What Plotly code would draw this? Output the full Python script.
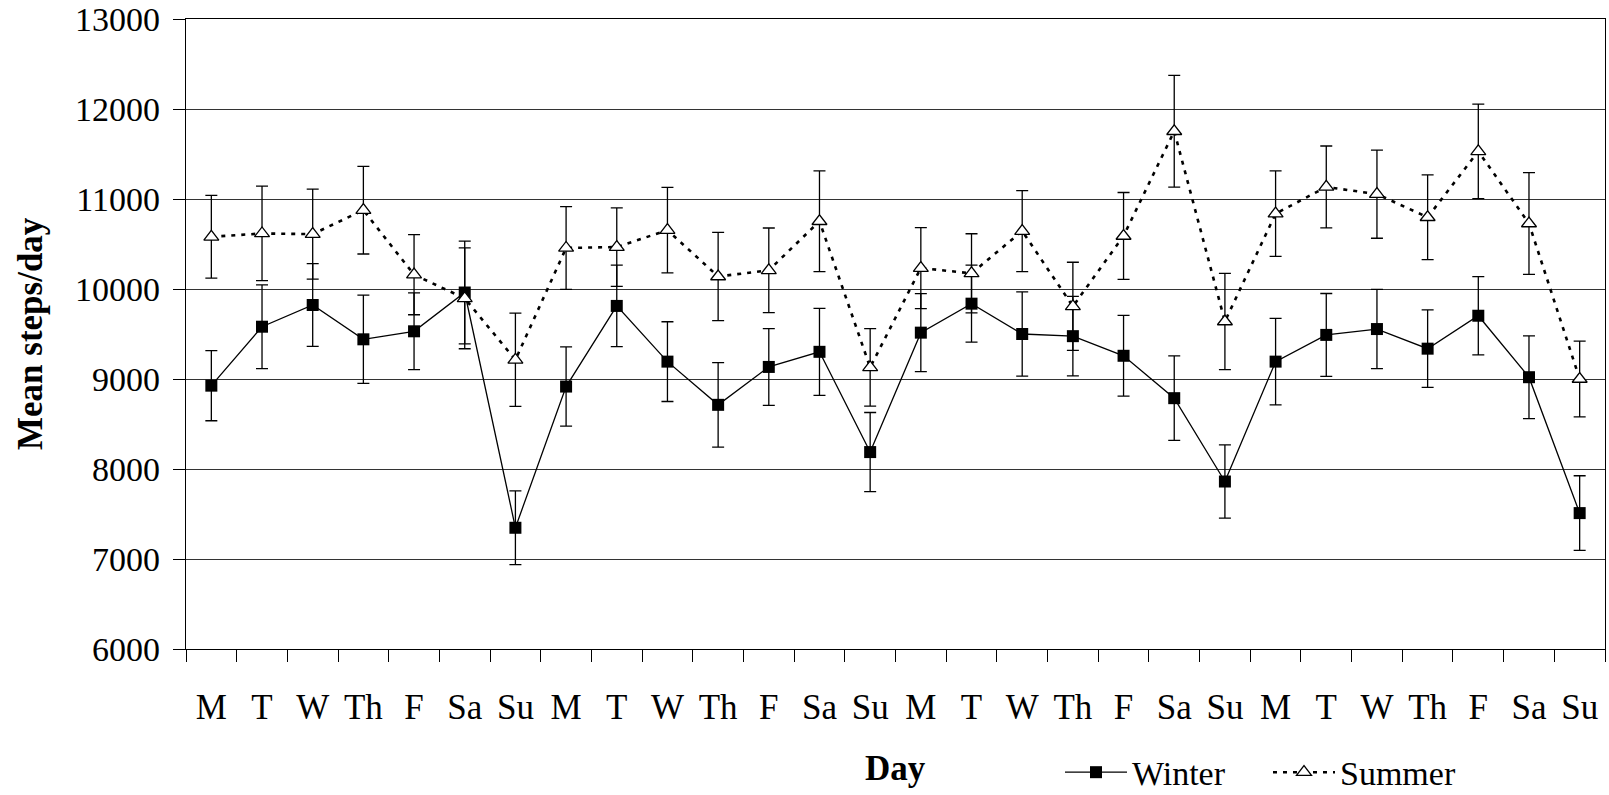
import plotly.graph_objects as go

days = ["M", "T", "W", "Th", "F", "Sa", "Su"] * 4
x_pos = list(range(len(days)))

winter = [8926, 9581, 9822, 9441, 9530, 9961, 7347,
          8916, 9812, 9193, 8713, 9134, 9302, 8188,
          9515, 9837, 9500, 9476, 9258, 8787, 7861,
          9193, 9490, 9555, 9337, 9703, 9020, 7510]
winter_err = [390, 465, 460, 490, 426, 570, 410,
              440, 453, 443, 470, 426, 483, 440,
              433, 428, 468, 441, 448, 470, 407,
              480, 460, 440, 430, 435, 460, 415]
summer = [10580, 10617, 10610, 10876, 10159, 9896, 9213,
          10456, 10466, 10654, 10139, 10208, 10753, 9129,
          10233, 10174, 10644, 9807, 10589, 11753, 9639,
          10837, 11134, 11054, 10797, 11530, 10728, 9000]
summer_err = [460, 525, 500, 487, 445, 560, 518,
              460, 436, 475, 490, 470, 560, 430,
              450, 440, 450, 490, 483, 620, 535,
              475, 455, 490, 470, 525, 565, 420]

y_ticks = [6000, 7000, 8000, 9000, 10000, 11000, 12000, 13000]
y_labels = [str(v) for v in y_ticks]
boundaries = [i - 0.5 for i in range(len(days) + 1)]

FONT = "Liberation Serif"

fig = go.Figure()
fig.add_trace(go.Scatter(
    x=x_pos, y=winter, name="Winter", mode="lines+markers",
    line=dict(color="black", width=1.3),
    marker=dict(symbol="square", size=12, color="black"),
    error_y=dict(type="data", array=winter_err, visible=True,
                 color="black", thickness=1.3, width=6),
))
fig.add_trace(go.Scatter(
    x=x_pos, y=summer, name="Summer", mode="lines+markers",
    line=dict(color="black", width=2.6, dash="4px,6px"),
    marker=dict(symbol="triangle-up", size=13, color="white",
                line=dict(color="black", width=1.3)),
    error_y=dict(type="data", array=summer_err, visible=True,
                 color="black", thickness=1.3, width=6),
))

fig.update_layout(
    width=1609, height=795,
    margin=dict(l=186, r=4, t=19, b=146, autoexpand=False),
    paper_bgcolor="white", plot_bgcolor="white",
    font=dict(family=FONT, size=35, color="black"),
    showlegend=True,
    legend=dict(orientation="h", x=(1060 - 186) / 1419, y=(649.3 - 773) / 630.6,
                xanchor="left", yanchor="middle",
                font=dict(family=FONT, size=34), itemwidth=62,
                entrywidth=131, entrywidthmode="pixels",
                bgcolor="rgba(0,0,0,0)", tracegroupgap=0),
    annotations=[
        dict(text="<b>Mean steps/day</b>", textangle=-90, xref="paper", yref="paper",
             x=(30 - 186) / 1419, y=0.5, xanchor="center", yanchor="middle",
             showarrow=False, font=dict(family=FONT, size=35)),
        dict(text="<b>Day</b>", xref="paper", yref="paper",
             x=(895 - 186) / 1419, y=(649.3 - 769) / 630.6, xanchor="center", yanchor="middle",
             showarrow=False, font=dict(family=FONT, size=35)),
    ],
)

fig.update_xaxes(
    range=[-0.5, len(days) - 0.5], automargin=False,
    tickmode="array", tickvals=x_pos, ticktext=days,
    ticks="", ticklabelstandoff=27,
    showgrid=False, zeroline=False,
    showline=True, linecolor="black", linewidth=1.3, mirror=True,
    minor=dict(tickmode="array", tickvals=boundaries, ticks="outside",
               ticklen=12, tickcolor="black", tickwidth=1, showgrid=False),
    tickfont=dict(family=FONT, size=35),
)
fig.update_yaxes(
    range=[6000, 13000], automargin=False,
    tickmode="array", tickvals=y_ticks, ticktext=y_labels,
    ticks="outside", ticklen=12, tickcolor="black", tickwidth=1,
    showgrid=True, gridcolor="#333333", gridwidth=1,
    zeroline=False,
    showline=True, linecolor="black", linewidth=1.3, mirror=True,
    tickfont=dict(family=FONT, size=34),
    ticklabelstandoff=6,
)

fig.write_html("out.html", config={"displayModeBar": False},
               post_script="document.body.style.margin='0';")
